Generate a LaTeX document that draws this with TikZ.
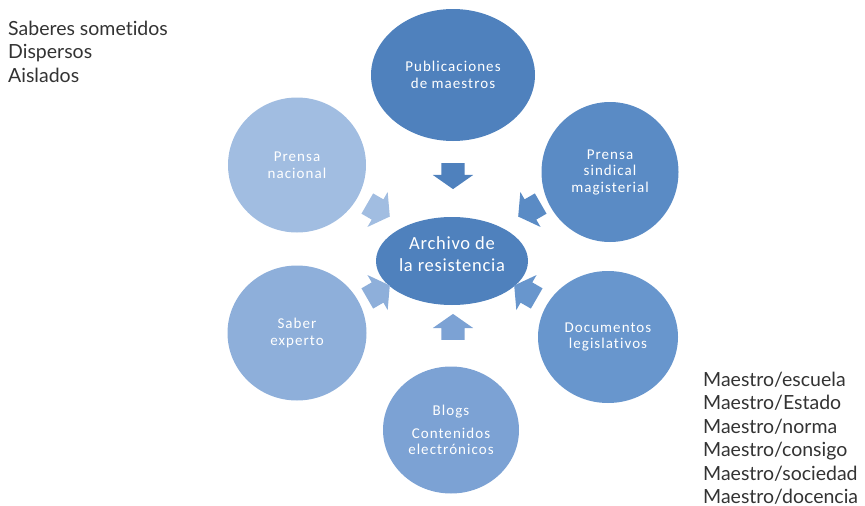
\documentclass[tikz,border=0pt]{standalone}
\usepackage{fontspec}
\setmainfont{Carlito}
\newfontfamily\bubfont[LetterSpace=7,Ligatures={NoCommon,NoContextual}]{Carlito}
\newfontfamily\hubfont[LetterSpace=4,Ligatures={NoCommon,NoContextual}]{Carlito}
\newfontfamily\sidefont[Ligatures={NoCommon,NoContextual}]{Lato}
\usetikzlibrary{shapes.arrows,shapes.geometric}
\definecolor{cA}{HTML}{4F81BD}
\definecolor{cB}{HTML}{5A8BC5}
\definecolor{cC}{HTML}{6896CD}
\definecolor{cD}{HTML}{7CA2D4}
\definecolor{cE}{HTML}{8EAFDA}
\definecolor{cF}{HTML}{A1BDE1}
\definecolor{sidetext}{HTML}{333333}
\begin{document}
\begin{tikzpicture}[x=1pt,y=-1pt,
  bub/.style={ellipse, draw=none, text=white, align=center, inner sep=0pt,
    font=\bubfont\fontsize{15}{16.5}\selectfont},
  blk/.style={single arrow, draw=none, minimum height=26pt, inner xsep=0pt,
    inner ysep=11.5pt, single arrow head extend=8.5pt, single arrow tip angle=110},
  side/.style={anchor=base west, inner sep=0pt, text=sidetext,
    font=\sidefont\fontsize{19.5}{23.5}\selectfont}]
\useasboundingbox (0,0) rectangle (865,506);
% hub
\node[ellipse, draw=none, fill=cA, minimum width=152pt, minimum height=88pt] (hub) at (452,261) {};
\node[text=white, align=center, inner sep=0pt, font=\hubfont\fontsize{18.5}{22}\selectfont]
  (hubtext) at (452,254) {Archivo de\\la resistencia};
% outer bubbles
\node[bub, fill=cA, minimum width=164pt, minimum height=132pt] (pub) at (453,75) {Publicaciones\\de maestros};
\node[bub, fill=cB, minimum width=137pt, minimum height=140pt] (sind) at (610,172) {Prensa\\sindical\\magisterial};
\node[bub, fill=cC, minimum width=140pt, minimum height=132pt] (doc) at (608,337) {Documentos\\legislativos};
\node[bub, fill=cD, minimum width=136pt, minimum height=127pt] (blog) at (451,430) {Blogs\\[6pt]Contenidos\\electrónicos};
\node[bub, fill=cE, minimum width=139pt, minimum height=135pt] (exp) at (297,333) {Saber\\experto};
\node[bub, fill=cF, minimum width=138pt, minimum height=135pt] (nac) at (297,165) {Prensa\\nacional};
% arrows
\node[blk, fill=cA, rotate=-90] (a1) at (453,172) {};
\node[blk, fill=cB, rotate=210] (a2) at (533,208) {};
\node[blk, fill=cC, rotate=150] (a3) at (529,294) {};
\node[blk, fill=cD, rotate=90] (a4) at (453,331) {};
\node[blk, fill=cE, rotate=30] (a5) at (375,294) {};
\node[blk, fill=cF, rotate=-30] (a6) at (375,208) {};
% side texts
\node[side] (l1) at (8,35) {Saberes sometidos};
\node[side] (l2) at (8,58.5) {Dispersos};
\node[side] (l3) at (8,82) {Aislados};
\node[side] (r1) at (703,386) {Maestro/escuela};
\node[side] (r2) at (703,409.5) {Maestro/Estado};
\node[side] (r3) at (703,433) {Maestro/norma};
\node[side] (r4) at (703,456.5) {Maestro/consigo};
\node[side] (r5) at (703,480) {Maestro/sociedad};
\node[side] (r6) at (703,503.5) {Maestro/docencia};
\end{tikzpicture}
\end{document}
